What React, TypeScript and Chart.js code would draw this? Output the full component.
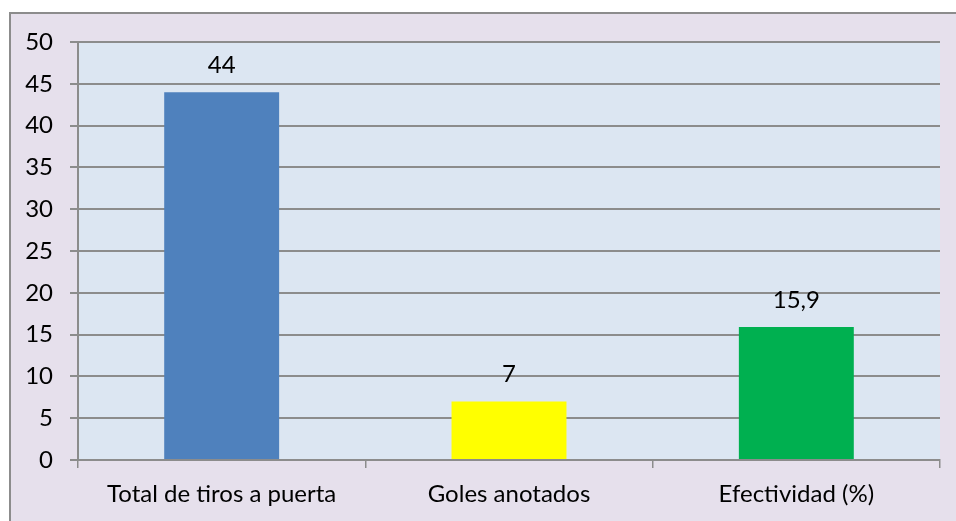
import React, { useEffect, useRef } from "react";
import { Chart, registerables } from "chart.js";

Chart.register(...registerables);

const categories = ["Total de tiros a puerta", "Goles anotados", "Efectividad (%)"];
const values = [44, 7, 15.9];
const valueLabels = ["44", "7", "15,9"];
const barColors = ["#4f81bd", "#ffff00", "#00b050"];
const yMin = 0;
const yMax = 50;
const yStep = 5;

const FONT = "Lato, 'Noto Sans', sans-serif";
const FSIZE = 24;

const plotBg = {
  id: "plotBg",
  beforeDraw(chart: any) {
    const { ctx, chartArea } = chart;
    ctx.save();
    ctx.fillStyle = "#dce6f2";
    ctx.fillRect(chartArea.left, chartArea.top, chartArea.right - chartArea.left, chartArea.bottom - chartArea.top);
    ctx.restore();
  },
};

const valueLabelPlugin = {
  id: "valueLabels",
  afterDatasetsDraw(chart: any) {
    const { ctx } = chart;
    const meta = chart.getDatasetMeta(0);
    ctx.save();
    ctx.font = `${FSIZE}px ${FONT}`;
    ctx.fillStyle = "#000";
    ctx.textAlign = "center";
    ctx.textBaseline = "middle";
    meta.data.forEach((bar: any, i: number) => {
      ctx.fillText(valueLabels[i], bar.x, bar.y - 27);
    });
    ctx.restore();
  },
};

export default function App() {
  const ref = useRef<HTMLCanvasElement>(null);
  useEffect(() => {
    if (!ref.current) return;
    const chart = new Chart(ref.current, {
      type: "bar",
      data: {
        labels: categories,
        datasets: [
          {
            data: values,
            backgroundColor: barColors,
            borderWidth: 0,
            categoryPercentage: 1,
            barPercentage: 0.4,
          },
        ],
      },
      options: {
        animation: false,
        responsive: false,
        layout: { padding: { left: 0, top: 42, right: 16, bottom: 0 } },
        plugins: { legend: { display: false }, tooltip: { enabled: false } },
        scales: {
          x: {
            afterFit: (s: any) => {
              s.height = 61;
            },
            grid: {
              offset: true,
              drawOnChartArea: false,
              drawTicks: true,
              tickLength: 8,
              color: "#8c8c8c",
              lineWidth: 1.5,
            },
            border: { display: true, color: "#8c8c8c", width: 2 },
            ticks: {
              color: "#000",
              font: { family: FONT, size: FSIZE },
              padding: 12,
              maxRotation: 0,
            },
          },
          y: {
            min: yMin,
            max: yMax,
            afterFit: (s: any) => {
              s.width = 78;
            },
            grid: {
              color: "#8c8c8c",
              lineWidth: 2,
              drawTicks: true,
              tickLength: 8,
            },
            border: { display: true, color: "#8c8c8c", width: 2 },
            ticks: {
              stepSize: yStep,
              color: "#000",
              font: { family: FONT, size: FSIZE },
              padding: 17,
            },
          },
        },
      },
      plugins: [plotBg, valueLabelPlugin],
    });
    return () => chart.destroy();
  }, []);

  return (
    <div style={{ position: "fixed", left: 0, top: 0, width: 956, height: 521, background: "#ffffff", overflow: "hidden" }}>
      <div
        style={{
          position: "absolute",
          left: 9,
          top: 12,
          width: 1000,
          height: 600,
          background: "#e6e0ec",
          border: "2px solid #8c8c8c",
          boxSizing: "border-box",
        }}
      />
      <canvas ref={ref} width={956} height={521} style={{ position: "absolute", left: 0, top: 0 }} />
    </div>
  );
}
